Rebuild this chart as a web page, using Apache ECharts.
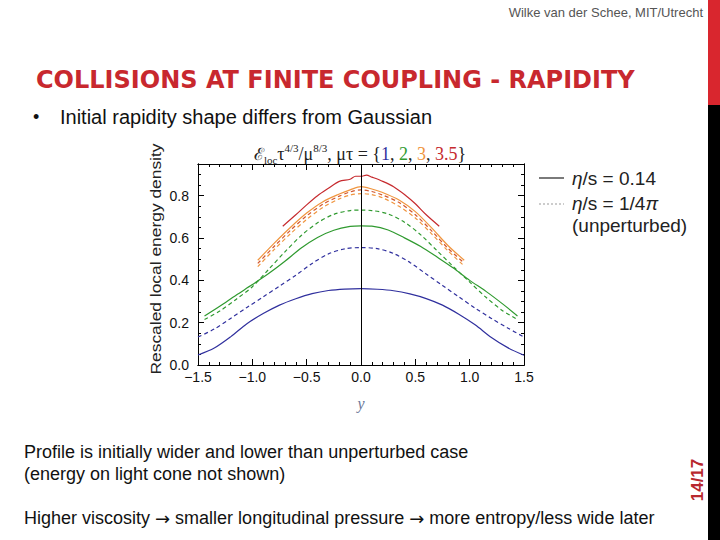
<!DOCTYPE html>
<html>
<head>
<meta charset="utf-8">
<script src="https://cdn.jsdelivr.net/npm/echarts@6/dist/echarts.min.js"></script>
<style>
html,body{margin:0;padding:0;background:#fff;}
#chart{width:720px;height:540px;}
</style>
</head>
<body>
<div id="chart"></div>
<script>
// ---- data ----
const xFull = [-1.5,-1.35,-1.2,-1.05,-0.9,-0.75,-0.6,-0.45,-0.3,-0.15,0,0.15,0.3,0.45,0.6,0.75,0.9,1.05,1.2,1.35,1.5];
const blueSolid  = [0.047,0.08,0.133,0.195,0.243,0.283,0.313,0.337,0.352,0.359,0.361,0.358,0.351,0.336,0.314,0.283,0.24,0.19,0.13,0.082,0.046];
const blueDashed = [0.132,0.17,0.22,0.272,0.322,0.373,0.424,0.48,0.525,0.549,0.555,0.55,0.527,0.485,0.43,0.376,0.322,0.269,0.22,0.175,0.132];

const xGreen = [-1.44,-1.3,-1.15,-1.0,-0.85,-0.7,-0.55,-0.4,-0.25,-0.1,0,0.1,0.25,0.4,0.55,0.7,0.85,1.0,1.15,1.3,1.44];
const greenSolid  = [0.232,0.278,0.33,0.38,0.432,0.49,0.553,0.603,0.637,0.655,0.658,0.656,0.638,0.601,0.56,0.51,0.458,0.4,0.348,0.29,0.232];
const greenDashed = [0.215,0.255,0.31,0.37,0.452,0.535,0.612,0.672,0.712,0.73,0.732,0.73,0.714,0.675,0.615,0.54,0.465,0.392,0.32,0.258,0.215];

const xOrange = [-0.95,-0.8,-0.65,-0.5,-0.35,-0.2,-0.1,0,0.1,0.2,0.35,0.5,0.65,0.8,0.95];
const orangeSolid  = [0.495,0.575,0.65,0.718,0.772,0.808,0.828,0.843,0.832,0.815,0.78,0.725,0.648,0.565,0.495];
const orangeDashed = [0.465,0.545,0.62,0.688,0.745,0.785,0.803,0.81,0.805,0.79,0.75,0.695,0.62,0.54,0.468];
const redDashed    = [0.48,0.56,0.636,0.705,0.76,0.798,0.818,0.828,0.82,0.803,0.768,0.71,0.634,0.552,0.482];

const xRed = [-0.72,-0.6,-0.5,-0.4,-0.3,-0.2,-0.1,-0.05,0,0.05,0.1,0.2,0.3,0.4,0.5,0.6,0.72];
const redSolid = [0.656,0.71,0.757,0.80,0.835,0.868,0.878,0.892,0.892,0.897,0.888,0.868,0.843,0.806,0.762,0.71,0.656];

const xTicks = [-1.5,-1.0,-0.5,0.0,0.5,1.0,1.5];
const yTicks = [0.0,0.2,0.4,0.6,0.8];

// ---- styling ----
const C = {blue:'#30309e', green:'#2f9a2f', orange:'#f0953e', red:'#c62a2e', redD:'#d2562e'};
const zip = (xs, ys) => xs.map((x, i) => [x, ys[i]]);

function line(name, xs, ys, color, dashed) {
  return {
    type: 'line', name: name, data: zip(xs, ys), showSymbol: false, smooth: 0.3,
    xAxisIndex: 0, yAxisIndex: 0, silent: true, animation: false,
    lineStyle: {color: color, width: 1.2, type: dashed ? [4, 3] : 'solid'}
  };
}

const series = [
  line('blueDashed', xFull, blueDashed, C.blue, true),
  line('blueSolid', xFull, blueSolid, C.blue, false),
  line('greenDashed', xGreen, greenDashed, C.green, true),
  line('greenSolid', xGreen, greenSolid, C.green, false),
  line('orangeDashed', xOrange, orangeDashed, C.orange, true),
  line('redDashed', xOrange, redDashed, C.redD, true),
  line('orangeSolid', xOrange, orangeSolid, C.orange, false),
  line('redSolid', xRed, redSolid, C.red, false)
];
// vertical axis line at x = 0
series[0].markLine = {
  silent: true, symbol: 'none', label: {show: false}, animation: false,
  lineStyle: {color: '#000', width: 1, type: 'solid'},
  data: [{xAxis: 0}]
};

const frameLine = {show: true, onZero: false, lineStyle: {color: '#000', width: 1}};
const tickFont = {fontFamily: 'Liberation Sans, Arial', fontSize: 14, color: '#111'};

function xAx(pos, interval, len, labels) {
  return {
    type: 'value', min: -1.5, max: 1.5, interval: interval, position: pos,
    axisLine: frameLine, splitLine: {show: false},
    axisTick: {show: true, inside: true, length: len, lineStyle: {color: '#000'}},
    axisLabel: labels ? Object.assign({show: true, margin: 5,
      formatter: v => { const r = Math.round(v*10)/10; return xTicks.includes(r) ? r.toFixed(1).replace('-', '\u2212') : ''; }}, tickFont) : {show: false}
  };
}
function yAx(pos, interval, len, labels) {
  return {
    type: 'value', min: 0, max: 0.95, interval: interval, position: pos,
    axisLine: frameLine, splitLine: {show: false},
    axisTick: {show: true, inside: true, length: len, lineStyle: {color: '#000'}},
    axisLabel: labels ? Object.assign({show: true, margin: 9, showMaxLabel: false,
      formatter: v => { const r = Math.round(v*10)/10; return yTicks.includes(r) && Math.abs(v - r) < 1e-6 ? r.toFixed(1) : ''; }}, tickFont) : {show: false}
  };
}

const xAxes = [xAx('bottom', 0.5, 6, true), xAx('bottom', 0.1, 3, false), xAx('top', 0.5, 6, false), xAx('top', 0.1, 3, false)];
xAxes[0].name = 'y';
xAxes[0].nameLocation = 'middle';
xAxes[0].nameGap = 30;
xAxes[0].nameTextStyle = {fontFamily: 'Liberation Serif', fontStyle: 'italic', fontSize: 16, color: '#6a7898'};
const yAxes = [yAx('left', 0.2, 6, true), yAx('left', 0.05, 3, false), yAx('right', 0.2, 6, false), yAx('right', 0.05, 3, false)];

const serif = 'Liberation Serif, DejaVu Serif, serif';
const rt = (f) => ({font: f, fill: '#111'});

const option = {
  backgroundColor: '#ffffff',
  animation: false,
  grid: {left: 198, right: 196, top: 164, bottom: 175, containLabel: false},
  title: {
    left: 'center', top: 137,
    text: '{e|\u2130}{sub|loc}{n|\u03c4}{sup|4/3}{n|/\u03bc}{sup|8/3}{n|, \u03bc\u03c4 = {}{b|1}{n|, }{g|2}{n|, }{o|3}{n|, }{r|3.5}{n|\u007d}',
    textStyle: {
      fontFamily: serif, fontSize: 18, fontWeight: 'normal', color: '#222',
      rich: {
        e: {fontFamily: 'DejaVu Serif', fontSize: 17, fontWeight: 'normal', color: '#222', lineHeight: 23, verticalAlign: 'middle'},
        sub: {fontFamily: serif, fontSize: 11, fontWeight: 'normal', color: '#222', lineHeight: 23, verticalAlign: 'bottom'},
        sup: {fontFamily: serif, fontSize: 11, fontWeight: 'normal', color: '#222', lineHeight: 23, verticalAlign: 'top'},
        n: {fontFamily: serif, fontSize: 18, fontWeight: 'normal', color: '#222', lineHeight: 23},
        b: {fontFamily: serif, fontSize: 18, fontWeight: 'normal', color: C.blue, lineHeight: 23},
        g: {fontFamily: serif, fontSize: 18, fontWeight: 'normal', color: C.green, lineHeight: 23},
        o: {fontFamily: serif, fontSize: 18, fontWeight: 'normal', color: C.orange, lineHeight: 23},
        r: {fontFamily: serif, fontSize: 18, fontWeight: 'normal', color: C.red, lineHeight: 23}
      }
    }
  },
  xAxis: xAxes,
  yAxis: yAxes,
  series: series,
  graphic: [
    // slide decorations
    {type: 'rect', shape: {x: 708, y: 0, width: 12, height: 105}, style: {fill: '#d9262e'}, silent: true},
    {type: 'rect', shape: {x: 708, y: 105, width: 12, height: 435}, style: {fill: '#000'}, silent: true},
    {type: 'text', x: 703, y: 12, style: {text: 'Wilke van der Schee, MIT/Utrecht', font: '13px "Liberation Sans", sans-serif', fill: '#555', align: 'right', verticalAlign: 'middle'}},
    {type: 'text', x: 36, y: 80, style: {text: 'COLLISIONS AT FINITE COUPLING - RAPIDITY', font: 'bold 24px "DejaVu Sans", sans-serif', fill: '#c8282e', align: 'left', verticalAlign: 'middle'}},
    {type: 'text', x: 33, y: 117, style: {text: '\u2022', font: '18px "Liberation Sans", sans-serif', fill: '#111', align: 'left', verticalAlign: 'middle'}},
    {type: 'text', x: 60, y: 117, style: {text: 'Initial rapidity shape differs from Gaussian', font: '20px "Liberation Sans", sans-serif', fill: '#111', align: 'left', verticalAlign: 'middle'}},
    {type: 'text', x: 24, y: 452, style: {text: 'Profile is initially wider and lower than unperturbed case', font: '18px "Liberation Sans", sans-serif', fill: '#111', align: 'left', verticalAlign: 'middle'}},
    {type: 'text', x: 24, y: 474, style: {text: '(energy on light cone not shown)', font: '18px "Liberation Sans", sans-serif', fill: '#111', align: 'left', verticalAlign: 'middle'}},
    {type: 'text', x: 24, y: 518, style: {
      text: '{t|Higher viscosity }{a|\u2192}{t| smaller longitudinal pressure }{a|\u2192}{t| more entropy/less wide later}',
      rich: {t: rt('18px "Liberation Sans", sans-serif'), a: rt('18px "DejaVu Sans", sans-serif')},
      align: 'left', verticalAlign: 'middle'}},
    {type: 'text', x: 697, y: 480, rotation: Math.PI / 2, style: {text: '14/17', font: 'bold 17px "Liberation Sans", sans-serif', fill: '#b8282e', align: 'center', verticalAlign: 'middle'}},
    // y axis title (stretched like the reference)
    {type: 'text', x: 155, y: 259, rotation: Math.PI / 2, scaleX: 1.16, style: {text: 'Rescaled local energy density', font: '15px "Liberation Sans", sans-serif', fill: '#222', align: 'center', verticalAlign: 'middle'}},
    // legend
    {type: 'line', shape: {x1: 539, y1: 178, x2: 564, y2: 178}, style: {stroke: '#222', lineWidth: 1.2}},
    {type: 'line', shape: {x1: 539, y1: 204, x2: 564, y2: 204}, style: {stroke: '#999', lineWidth: 1.2, lineDash: [2, 2]}},
    {type: 'text', x: 572, y: 178, style: {rich: {i: {font: 'italic 19px "Liberation Sans", sans-serif', fill: '#222'}, t: {font: '19px "Liberation Sans", sans-serif', fill: '#222'}}, text: '{i|\u03b7}{t|/s = 0.14}', align: 'left', verticalAlign: 'middle'}},
    {type: 'text', x: 572, y: 203, style: {rich: {i: {font: 'italic 19px "Liberation Sans", sans-serif', fill: '#222'}, t: {font: '19px "Liberation Sans", sans-serif', fill: '#222'}}, text: '{i|\u03b7}{t|/s = 1/4}{i|\u03c0}', align: 'left', verticalAlign: 'middle'}},
    {type: 'text', x: 572, y: 225, style: {text: '(unperturbed)', font: '19px "Liberation Sans", sans-serif', fill: '#222', align: 'left', verticalAlign: 'middle'}}
  ]
};

const chart = echarts.init(document.getElementById('chart'), null, {renderer: 'svg', width: 720, height: 540});
chart.setOption(option);
</script>
</body>
</html>
